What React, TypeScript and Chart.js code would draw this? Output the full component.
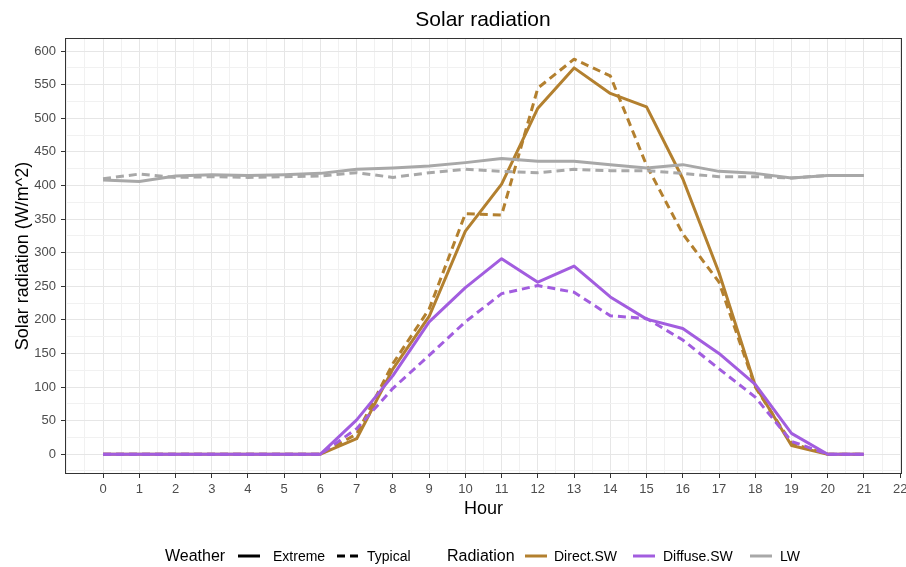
import React, { useEffect, useRef } from "react";
import { Chart, registerables } from "chart.js";

Chart.register(...registerables);

const FONT = '"Liberation Sans", Arial, Helvetica, sans-serif';

const hours = [0, 1, 2, 3, 4, 5, 6, 7, 8, 9, 10, 11, 12, 13, 14, 15, 16, 17, 18, 19, 20, 21];

const directExtreme = [0, 0, 0, 0, 0, 0, 0, 23, 127, 205, 332, 402, 515, 575, 537, 517, 410, 270, 102, 13, 0, 0];
const directTypical = [0, 0, 0, 0, 0, 0, 0, 30, 135, 216, 358, 356, 545, 588, 563, 430, 328, 256, 100, 16, 0, 0];
const diffuseExtreme = [0, 0, 0, 0, 0, 0, 0, 51, 117, 197, 248, 291, 256, 280, 234, 201, 187, 150, 104, 31, 0, 0];
const diffuseTypical = [0, 0, 0, 0, 0, 0, 0, 38, 98, 147, 197, 239, 251, 241, 206, 202, 170, 127, 85, 19, 0, 0];
const lwExtreme = [408, 406, 414, 416, 415, 416, 418, 424, 426, 429, 434, 440, 436, 436, 431, 426, 431, 421, 418, 411, 415, 415];
const lwTypical = [410, 417, 412, 413, 412, 413, 414, 419, 412, 419, 424, 421, 419, 424, 422, 422, 418, 413, 413, 411, 415, 415];

const xTickValues = [-1, -0.5, 0, 0.5, 1, 1.5, 2, 2.5, 3, 3.5, 4, 4.5, 5, 5.5, 6, 6.5, 7, 7.5, 8, 8.5, 9, 9.5, 10, 10.5, 11, 11.5, 12, 12.5, 13, 13.5, 14, 14.5, 15, 15.5, 16, 16.5, 17, 17.5, 18, 18.5, 19, 19.5, 20, 20.5, 21, 21.5, 22];
const xLabelValues = [0, 1, 2, 3, 4, 5, 6, 7, 8, 9, 10, 11, 12, 13, 14, 15, 16, 17, 18, 19, 20, 21, 22];
const yTickValues = [-25, 0, 25, 50, 75, 100, 125, 150, 175, 200, 225, 250, 275, 300, 325, 350, 375, 400, 425, 450, 475, 500, 525, 550, 575, 600];
const yLabelValues = [0, 50, 100, 150, 200, 250, 300, 350, 400, 450, 500, 550, 600];

const COLOR_DIRECT = "#b3802f";
const COLOR_DIFFUSE = "#a25ddf";
const COLOR_LW = "#a8a8a8";
const DASH = [8, 5];

const panelBorder = {
  id: "panelBorder",
  afterDraw(chart: any) {
    const { ctx, chartArea } = chart;
    ctx.save();
    ctx.strokeStyle = "#333333";
    ctx.lineWidth = 1;
    ctx.strokeRect(
      Math.round(chartArea.left) + 0.5,
      Math.round(chartArea.top) + 0.5,
      Math.round(chartArea.right - chartArea.left) - 1,
      Math.round(chartArea.bottom - chartArea.top) - 1
    );
    ctx.restore();
  },
};

function series(label: string, values: number[], color: string, dashed: boolean) {
  return {
    label,
    data: hours.map((h, i) => ({ x: h, y: values[i] })),
    borderColor: color,
    backgroundColor: color,
    borderWidth: 3,
    borderDash: dashed ? DASH : [],
    borderCapStyle: "butt",
    borderJoinStyle: "round",
    pointRadius: 0,
    fill: false,
    tension: 0,
  };
}

export default function App() {
  const ref = useRef<HTMLCanvasElement>(null);

  useEffect(() => {
    if (!ref.current) return;
    const isMajorX = (v: number) => xLabelValues.includes(v);
    const isMajorY = (v: number) => yLabelValues.includes(v);
    const chart = new Chart(ref.current, {
      type: "line",
      data: {
        datasets: [
          series("LW Extreme", lwExtreme, COLOR_LW, false),
          series("LW Typical", lwTypical, COLOR_LW, true),
          series("Diffuse.SW Extreme", diffuseExtreme, COLOR_DIFFUSE, false),
          series("Diffuse.SW Typical", diffuseTypical, COLOR_DIFFUSE, true),
          series("Direct.SW Extreme", directExtreme, COLOR_DIRECT, false),
          series("Direct.SW Typical", directTypical, COLOR_DIRECT, true),
        ] as any,
      },
      options: {
        responsive: false,
        animation: false,
        events: [],
        layout: { padding: { left: 0, right: 4, top: 38, bottom: 47 } },
        plugins: {
          legend: { display: false },
          tooltip: { enabled: false },
          title: { display: false },
        },
        scales: {
          x: {
            type: "linear",
            min: -1.05,
            max: 22.05,
            afterBuildTicks: (s: any) => {
              s.ticks = xTickValues.map((v) => ({ value: v }));
            },
            afterFit: (s: any) => {
              s.height = 46;
              s.paddingLeft = 0;
              s.paddingRight = 0;
            },
            ticks: {
              autoSkip: false,
              maxRotation: 0,
              minRotation: 0,
              padding: 4,
              color: "#4d4d4d",
              font: { family: FONT, size: 13 },
              callback: (v: any) => (isMajorX(Number(v)) ? String(v) : ""),
            },
            grid: {
              color: (c: any) => (isMajorX(c.tick?.value) ? "#e6e6e6" : "#f1f1f1"),
              lineWidth: 1,
              tickLength: 4,
              tickColor: (c: any) => (isMajorX(c.tick?.value) ? "#333333" : "rgba(0,0,0,0)"),
            },
            border: { display: false },
            title: {
              display: true,
              text: "Hour",
              color: "#000000",
              font: { family: FONT, size: 18 },
              padding: { top: 0, bottom: 0 },
            },
          },
          y: {
            type: "linear",
            min: -29.5,
            max: 619.5,
            afterBuildTicks: (s: any) => {
              s.ticks = yTickValues.map((v) => ({ value: v }));
            },
            afterFit: (s: any) => {
              s.width = 65;
              s.paddingTop = 0;
              s.paddingBottom = 0;
            },
            ticks: {
              autoSkip: false,
              padding: 5,
              color: "#4d4d4d",
              font: { family: FONT, size: 13 },
              callback: (v: any) => (isMajorY(Number(v)) ? String(v) : ""),
            },
            grid: {
              color: (c: any) => (isMajorY(c.tick?.value) ? "#e6e6e6" : "#f1f1f1"),
              lineWidth: 1,
              tickLength: 4,
              tickColor: (c: any) => (isMajorY(c.tick?.value) ? "#333333" : "rgba(0,0,0,0)"),
            },
            border: { display: false },
            title: {
              display: true,
              text: "Solar radiation (W/m^2)",
              color: "#000000",
              font: { family: FONT, size: 18 },
              padding: { top: 12, bottom: 0 },
            },
          },
        },
      } as any,
      plugins: [panelBorder],
    });
    return () => chart.destroy();
  }, []);

  const textStyle = (left: number, size: number): React.CSSProperties => ({
    position: "absolute",
    left,
    top: 546,
    height: 20,
    lineHeight: "20px",
    fontFamily: FONT,
    fontSize: size,
    color: "#000",
    whiteSpace: "nowrap",
  });

  const key = (left: number, color: string, dashed: boolean) => (
    <svg
      style={{ position: "absolute", left, top: 546 }}
      width={22}
      height={20}
    >
      <line
        x1={0}
        y1={10}
        x2={22}
        y2={10}
        stroke={color}
        strokeWidth={3}
        strokeDasharray={dashed ? "8 5" : undefined}
      />
    </svg>
  );

  return (
    <div
      style={{
        position: "absolute",
        left: 0,
        top: 0,
        width: 906,
        height: 567,
        background: "#ffffff",
        overflow: "hidden",
      }}
    >
      <canvas ref={ref} width={906} height={567} style={{ display: "block" }} />
      <div
        style={{
          position: "absolute",
          left: 283,
          width: 400,
          top: 6,
          height: 26,
          lineHeight: "26px",
          textAlign: "center",
          fontFamily: FONT,
          fontSize: 21,
          color: "#000",
          whiteSpace: "nowrap",
        }}
      >
        Solar radiation
      </div>
      <span style={textStyle(165, 16)}>Weather</span>
      {key(238, "#000000", false)}
      <span style={textStyle(273, 14)}>Extreme</span>
      {key(337, "#000000", true)}
      <span style={textStyle(367, 14)}>Typical</span>
      <span style={textStyle(447, 16)}>Radiation</span>
      {key(525, COLOR_DIRECT, false)}
      <span style={textStyle(554, 14)}>Direct.SW</span>
      {key(633, COLOR_DIFFUSE, false)}
      <span style={textStyle(663, 14)}>Diffuse.SW</span>
      {key(750, COLOR_LW, false)}
      <span style={textStyle(780, 14)}>LW</span>
    </div>
  );
}
